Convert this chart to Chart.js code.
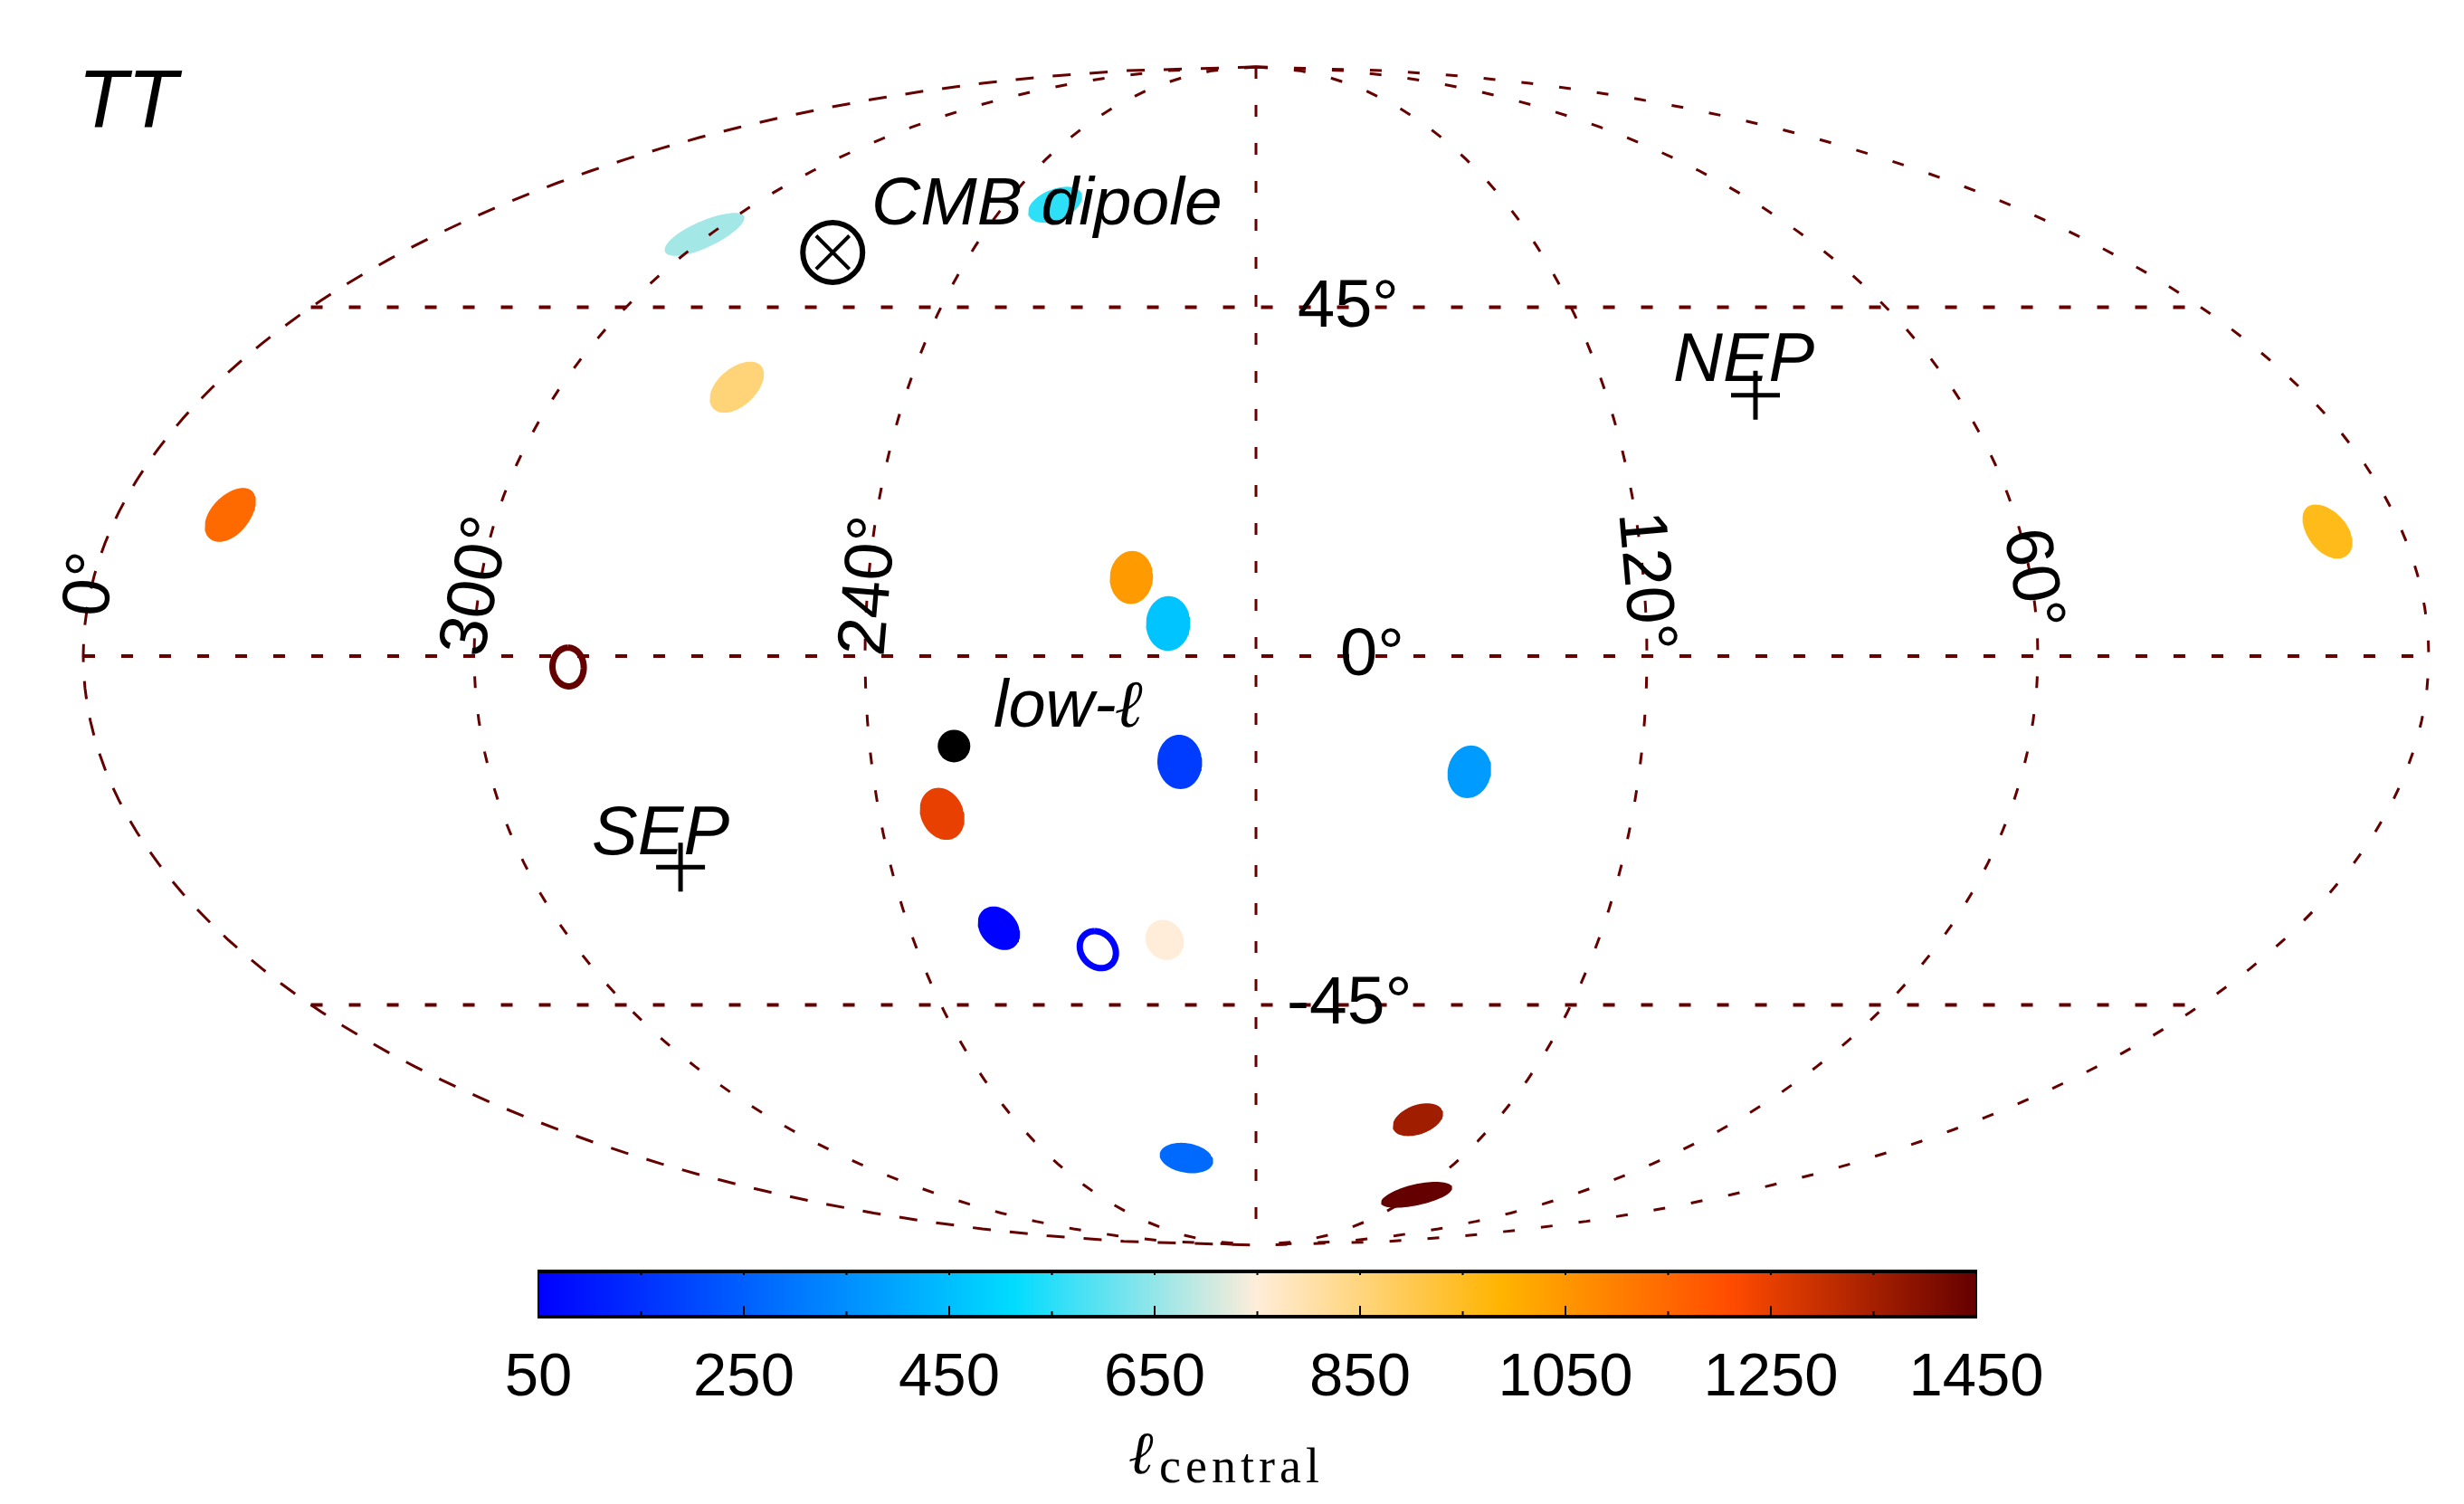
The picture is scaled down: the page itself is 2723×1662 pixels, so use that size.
<!DOCTYPE html>
<html>
<head>
<meta charset="utf-8">
<title>TT</title>
<script src="https://cdn.jsdelivr.net/npm/chart.js@4"></script>
<style>
  html, body { margin: 0; padding: 0; background: #fff; }
  canvas { position: absolute; left: 0; top: 0; }
</style>
</head>
<body>
<canvas id="mapCanvas" width="2723" height="1662"></canvas>
<canvas id="barCanvas" width="2723" height="1662"></canvas>
<script>
// sky patches (degrees)
const patchLon = [301.4, 228, 269.6, 342.2, 199.3, 193.5, 11.7, 191.9, 146.6, 230, 224.5, 196, 200.4, 139.7, 118.9];
const patchLat = [55.75, 60.4, 34.1, 17.6, 9.76, 4.04, 15.5, -13.16, -14.4, -19.7, -34.53, -36.1, -69, -62.4, -76.1];
const patchEll = [664, 555, 855, 1145, 1044, 462, 960, 176, 375, 1248, 55, 750, 272, 1357, 1450];
const patchRad = [3.3, 2.9, 3.4, 3.4, 3.3, 3.4, 3.4, 3.4, 3.3, 3.3, 2.9, 2.7, 2.75, 2.7, 2.7];

// the two open rings
const ringLon = [285.6, 208];
const ringLat = [-1.35, -37.4];
const ringEll = [1450, 55];
const ringRad = [2.4, 2.5];

// fixed sky positions
const lowEllLon = [226.9];
const lowEllLat = [-11.17];
const dipoleLon = [269.2];
const dipoleLat = [52.97];
const poleLon = [94.5, 274.6];
const poleLat = [33, -26.5];

// graticule
const meridians = [0, 60, 120, 180, 240, 300, 360];
const parallels = [-45, 0, 45];

// colour bar
const ellMin = 50;
const ellMax = 1450;
const cmapEll = [50, 512, 750, 988, 1212, 1450];
const cmapColors = ['#0000ff', '#00dcff', '#ffedd9', '#ffb400', '#ff4b00', '#640000'];

const LINE = '#640000';
const SANS = "'Liberation Sans'";

// rotated and plain text on the map: text, x, y, rotation, font
const mapTexts = [
  ['TT', 86, 141, 0, 'italic 90px ' + SANS, 'left'],
  ['CMB dipole', 963, 248, 0, 'italic 75px ' + SANS, 'left'],
  ['NEP', 1849, 421, 0, 'italic 76px ' + SANS, 'left'],
  ['SEP', 654, 944, 0, 'italic 76px ' + SANS, 'left'],
  ['low-', 1098, 803, 0, 'italic 74px ' + SANS, 'left'],
  ['ℓ', 1232, 803, 0, "italic 74px 'Liberation Serif'", 'left'],
  ['45°', 1434, 361, 0, '74px ' + SANS, 'left'],
  ['0°', 1481, 746, 0, '74px ' + SANS, 'left'],
  ['-45°', 1422, 1131, 0, '75px ' + SANS, 'left'],
  ['0°', 96, 645, -84, '74px ' + SANS, 'center'],
  ['300°', 523, 647, -79, '75px ' + SANS, 'center'],
  ['240°', 957, 647, -85, '75px ' + SANS, 'center'],
  ['120°', 1822, 642, 85, '75px ' + SANS, 'center'],
  ['60°', 2250, 639, 80, '74px ' + SANS, 'center']
];

function mollweide(lon, lat) {
  const phi = lat * Math.PI / 180;
  let th = phi;
  if (Math.abs(lat) >= 90) {
    th = Math.sign(lat) * Math.PI / 2;
  } else {
    for (let i = 0; i < 40; i++) {
      const f = 2 * th + Math.sin(2 * th) - Math.PI * Math.sin(phi);
      const d = 2 + 2 * Math.cos(2 * th);
      th = th - f / d;
    }
  }
  return { x: (180 - lon) / 180 * Math.cos(th), y: Math.sin(th) };
}

// circle of given radius on the sphere, projected
function discPoints(lon0, lat0, rad) {
  const pts = [];
  const p0 = lat0 * Math.PI / 180;
  const r = rad * Math.PI / 180;
  for (let b = 0; b <= 360; b += 5) {
    const al = b * Math.PI / 180;
    const sinp = Math.sin(p0) * Math.cos(r) + Math.cos(p0) * Math.sin(r) * Math.cos(al);
    const p = Math.asin(sinp);
    const dl = Math.atan2(Math.sin(al) * Math.sin(r) * Math.cos(p0), Math.cos(r) - Math.sin(p0) * sinp);
    pts.push(mollweide(lon0 + dl * 180 / Math.PI, p * 180 / Math.PI));
  }
  return pts;
}

// north to south, so the dashes start at the top as in the picture
function meridianPoints(lon) {
  const pts = [];
  for (let lat = 90; lat >= -90; lat -= 2) pts.push(mollweide(lon, lat));
  return pts;
}

// left to right on the map
function parallelPoints(lat) {
  const pts = [];
  for (let lon = 360; lon >= 0; lon -= 6) pts.push(mollweide(lon, lat));
  return pts;
}

function hexToRgb(h) {
  return [parseInt(h.slice(1, 3), 16), parseInt(h.slice(3, 5), 16), parseInt(h.slice(5, 7), 16)];
}

function ellColor(ell) {
  let i = 0;
  while (i < cmapEll.length - 2 && ell > cmapEll[i + 1]) i++;
  const t = Math.min(1, Math.max(0, (ell - cmapEll[i]) / (cmapEll[i + 1] - cmapEll[i])));
  const a = hexToRgb(cmapColors[i]);
  const b = hexToRgb(cmapColors[i + 1]);
  const c = a.map((v, k) => Math.round(v + (b[k] - v) * t));
  return 'rgb(' + c.join(',') + ')';
}

const datasets = [];

patchLon.forEach((lon, i) => {
  datasets.push({
    data: discPoints(lon, patchLat[i], patchRad[i]),
    showLine: true, fill: 'shape', tension: 0,
    backgroundColor: ellColor(patchEll[i]),
    borderWidth: 0, pointRadius: 0, clip: false, order: 3
  });
});

// small tension keeps chart.js off its fast line path, which breaks closed shapes
ringLon.forEach((lon, i) => {
  datasets.push({
    data: discPoints(lon, ringLat[i], ringRad[i]),
    showLine: true, fill: false, tension: 0.01,
    borderColor: ellColor(ringEll[i]),
    borderWidth: 7, pointRadius: 0, clip: false, order: 3
  });
});

meridians.forEach(lon => {
  datasets.push({
    data: meridianPoints(lon),
    showLine: true, fill: false, tension: 0,
    borderColor: LINE, borderWidth: 3,
    // left edge of the map has longer dashes in the picture
    borderDash: lon === 360 ? [20, 21] : [13, 29],
    pointRadius: 0, clip: false, order: 2
  });
});

parallels.forEach(lat => {
  datasets.push({
    data: parallelPoints(lat),
    showLine: true, fill: false, tension: 0,
    borderColor: LINE, borderWidth: 4, borderDash: [13, 29],
    pointRadius: 0, clip: false, order: 2
  });
});

datasets.push({
  data: lowEllLon.map((lon, i) => mollweide(lon, lowEllLat[i])),
  pointStyle: 'circle', pointRadius: 18, backgroundColor: '#000', borderWidth: 0, clip: false, order: 1
});
datasets.push({
  data: dipoleLon.map((lon, i) => mollweide(lon, dipoleLat[i])),
  pointStyle: 'circle', pointRadius: 33, backgroundColor: 'rgba(0,0,0,0)', borderColor: '#000', borderWidth: 6, clip: false, order: 1
});
datasets.push({
  data: dipoleLon.map((lon, i) => mollweide(lon, dipoleLat[i])),
  pointStyle: 'crossRot', pointRadius: 26, borderColor: '#000', borderWidth: 4, clip: false, order: 1
});
datasets.push({
  data: poleLon.map((lon, i) => mollweide(lon, poleLat[i])),
  pointStyle: 'cross', pointRadius: 27, borderColor: '#000', borderWidth: 5, clip: false, order: 1
});

const mapLabels = {
  id: 'mapLabels',
  afterDatasetsDraw(chart) {
    const ctx = chart.ctx;
    mapTexts.forEach(t => {
      ctx.save();
      ctx.fillStyle = '#000';
      ctx.font = t[4];
      ctx.textAlign = t[5];
      ctx.translate(t[1], t[2]);
      ctx.rotate(t[3] * Math.PI / 180);
      ctx.fillText(t[0], 0, t[3] !== 0 ? 26 : 0);
      ctx.restore();
    });
  }
};

new Chart(document.getElementById('mapCanvas'), {
  type: 'scatter',
  data: { datasets: datasets },
  options: {
    responsive: false,
    devicePixelRatio: 1,
    animation: false,
    events: [],
    layout: { padding: { left: 92, right: 37, top: 74, bottom: 286 } },
    scales: {
      x: { type: 'linear', min: -1, max: 1, display: false },
      y: { type: 'linear', min: -1, max: 1, display: false }
    },
    plugins: { legend: { display: false }, tooltip: { enabled: false } }
  },
  plugins: [mapLabels]
});

// ticks, frame and label of the colour bar
const barDecor = {
  id: 'barDecor',
  afterDatasetsDraw(chart) {
    const ctx = chart.ctx;
    const area = chart.chartArea;
    const xs = chart.scales.x;
    ctx.save();
    ctx.strokeStyle = '#000';
    ctx.lineWidth = 2;
    for (let v = ellMin; v <= ellMax; v += 100) {
      const px = xs.getPixelForValue(v);
      const major = (v - ellMin) % 200 === 0;
      ctx.beginPath();
      ctx.moveTo(px, area.top - 2);
      ctx.lineTo(px, area.top + 4);
      ctx.moveTo(px, area.bottom);
      ctx.lineTo(px, area.bottom - (major ? 12 : 6));
      ctx.stroke();
    }
    ctx.fillStyle = '#000';
    ctx.fillRect(area.left - 1, area.top - 2, area.width + 2, 4);
    ctx.fillRect(area.left - 1, area.bottom - 2, area.width + 2, 4);
    ctx.fillRect(area.left - 1, area.top, 2, area.height);
    ctx.fillRect(area.right - 1, area.top, 2, area.height);
    ctx.textAlign = 'left';
    ctx.font = "italic 66px 'Liberation Serif'";
    ctx.fillText('ℓ', 1247, 1628);
    ctx.font = "54px 'Liberation Serif'";
    ctx.letterSpacing = '5px';
    ctx.fillText('central', 1281, 1638);
    ctx.restore();
  }
};

new Chart(document.getElementById('barCanvas'), {
  type: 'bar',
  data: {
    labels: [''],
    datasets: [{
      data: [[ellMin, ellMax]],
      barPercentage: 1,
      categoryPercentage: 1,
      backgroundColor(c) {
        const area = c.chart.chartArea;
        if (!area) return '#000';
        const g = c.chart.ctx.createLinearGradient(area.left, 0, area.right, 0);
        cmapEll.forEach((v, i) => g.addColorStop((v - ellMin) / (ellMax - ellMin), cmapColors[i]));
        return g;
      }
    }]
  },
  options: {
    indexAxis: 'y',
    responsive: false,
    devicePixelRatio: 1,
    animation: false,
    events: [],
    layout: { padding: { left: 595, right: 539, top: 1405, bottom: 100 } },
    scales: {
      x: {
        type: 'linear',
        min: ellMin,
        max: ellMax,
        border: { display: false },
        grid: { display: false, drawTicks: false },
        afterFit(scale) { scale.height = 107; },
        ticks: {
          stepSize: 200,
          autoSkip: false,
          maxRotation: 0,
          color: '#000',
          padding: 28,
          callback: v => String(v),
          font: { family: 'Liberation Sans', size: 67 }
        }
      },
      y: { display: false }
    },
    plugins: { legend: { display: false }, tooltip: { enabled: false } }
  },
  plugins: [barDecor]
});
</script>
</body>
</html>
